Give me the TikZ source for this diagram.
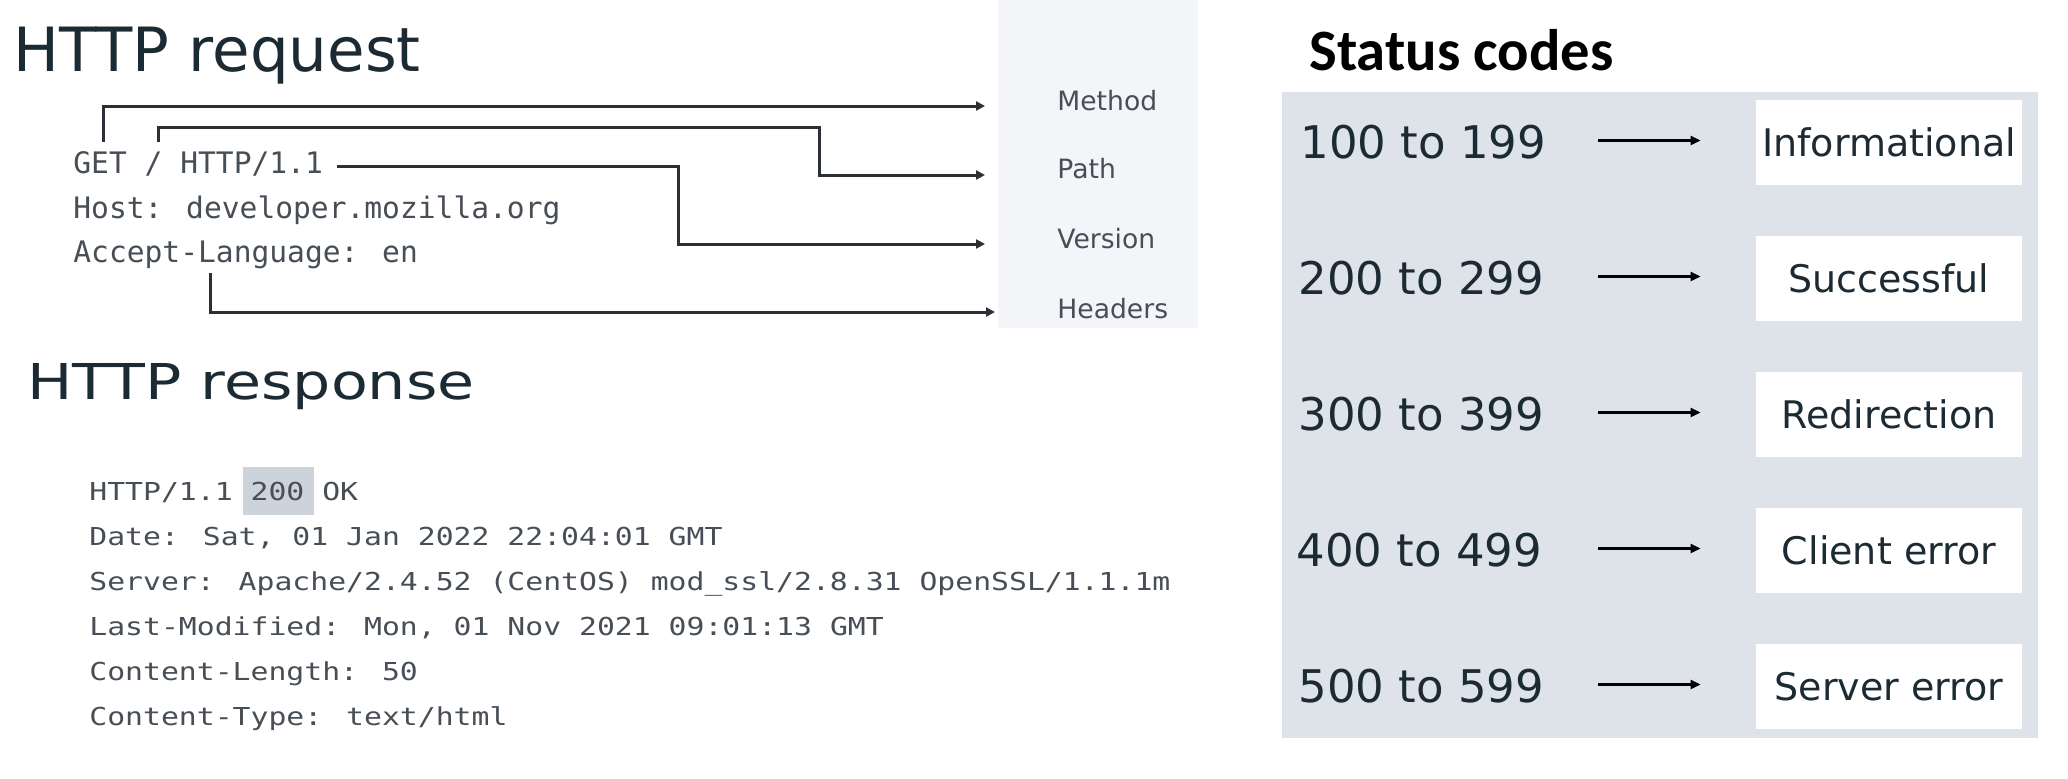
\documentclass[tikz,border=0pt]{standalone}
\usepackage{fontspec}
\setmainfont{DejaVu Sans}
\newfontfamily\monofont{DejaVu Sans Mono}
\newfontfamily\carlito{Carlito}
\usetikzlibrary{arrows.meta}
\definecolor{ink}{HTML}{1C2B33}
\definecolor{codegray}{HTML}{474E56}
\definecolor{reqpanel}{HTML}{F3F5F8}
\definecolor{statpanel}{HTML}{DEE2E9}
\definecolor{hlgray}{HTML}{CDD3DA}
\definecolor{wirecol}{HTML}{2B3036}
\begin{document}
\begin{tikzpicture}[x=0.5pt,y=-0.5pt,
  titletxt/.style={anchor=base west, inner sep=0pt, text=ink, font=\fontsize{30.5pt}{36pt}\selectfont},
  reqcode/.style={anchor=base west, inner sep=0pt, text=codegray, font=\monofont\fontsize{14.8pt}{18pt}\selectfont},
  respcode/.style={anchor=base west, inner sep=0pt, text=codegray, font=\monofont\fontsize{12.35pt}{15pt}\selectfont},
  partlabel/.style={anchor=base west, inner sep=0pt, text=codegray, font=\fontsize{13.3pt}{16pt}\selectfont},
  wireline/.style={draw=wirecol, line width=1.5pt, -{Triangle[length=4.5pt,width=4.5pt]}},
  rangetxt/.style={anchor=west, inner sep=0pt, text=ink, font=\fontsize{22.5pt}{27pt}\selectfont},
  catbox/.style={fill=white, minimum width=133pt, minimum height=42.5pt, inner sep=0pt, text=ink, font=\fontsize{19pt}{23pt}\selectfont},
  statarrow/.style={draw=black, line width=1.5pt, -{Triangle[length=5pt,width=4.5pt]}, shorten >=27.5pt},
]
\useasboundingbox[fill=white] (0,0) rectangle (2068,778);

% panels
\fill[reqpanel] (998,0) rectangle (1198,328);
\fill[statpanel] (1282,92) rectangle (2038,738);
\fill[hlgray] (243,467) rectangle (314,515);

% titles
\node[titletxt] (treq) at (13,71) {HTTP request};
\node[titletxt, font=\fontsize{24.7pt}{30pt}\selectfont] (tresp) at (27,399) {\scalebox{1.22}[1]{HTTP response}};
\node[anchor=base west, inner sep=0pt, text=black, font=\carlito\bfseries\fontsize{29.3pt}{34pt}\selectfont] (tstat) at (1309,70) {Status codes};

% request text
\node[reqcode] (rq1) at (73,173) {GET / HTTP/1.1};
\node[reqcode] (rq2) at (73,218) {Host: developer.mozilla.org};
\node[reqcode] (rq3) at (73,262) {Accept-Language: en};

% request parts
\node[partlabel] (lmethod) at (1057,110) {Method};
\node[partlabel] (lpath) at (1057,178) {Path};
\node[partlabel] (lversion) at (1057,248) {Version};
\node[partlabel] (lheaders) at (1057,318) {Headers};

% connectors
\coordinate (mS) at (103,142);
\coordinate (mE) at (985,106);
\draw[wireline] (mS) |- (mE);
\coordinate (pS) at (158,142);
\coordinate (pJ) at (819,127);
\coordinate (pE) at (985,175);
\draw[wireline] (pS) |- (pJ) |- (pE);
\coordinate (vS) at (337,166);
\coordinate (vJ) at (678,244);
\coordinate (vE) at (985,244);
\draw[wireline] (vS) -| (vJ) -- (vE);
\coordinate (hS) at (210,273);
\coordinate (hE) at (995,312);
\draw[wireline] (hS) |- (hE);

% response text
\node[respcode] (rs1) at (89,500) {\scalebox{1.205}[1]{HTTP/1.1 200 OK}};
\node[respcode] (rs2) at (89,545) {\scalebox{1.205}[1]{Date: Sat, 01 Jan 2022 22:04:01 GMT}};
\node[respcode] (rs3) at (89,590) {\scalebox{1.205}[1]{Server: Apache/2.4.52 (CentOS) mod\_ssl/2.8.31 OpenSSL/1.1.1m}};
\node[respcode] (rs4) at (89,635) {\scalebox{1.205}[1]{Last-Modified: Mon, 01 Nov 2021 09:01:13 GMT}};
\node[respcode] (rs5) at (89,680) {\scalebox{1.205}[1]{Content-Length: 50}};
\node[respcode] (rs6) at (89,725) {\scalebox{1.205}[1]{Content-Type: text/html}};

% status codes
\node[catbox] (b1) at (1889,142.5) {Informational};
\node[catbox] (b2) at (1889,278.5) {Successful};
\node[catbox] (b3) at (1889,414.5) {Redirection};
\node[catbox] (b4) at (1889,550.5) {Client error};
\node[catbox] (b5) at (1889,686.5) {Server error};

\node[rangetxt] (r1) at (1300,142.5) {100 to 199};
\node[rangetxt] (r2) at (1298,278.5) {200 to 299};
\node[rangetxt] (r3) at (1298,414.5) {300 to 399};
\node[rangetxt] (r4) at (1296,550.5) {400 to 499};
\node[rangetxt] (r5) at (1298,686.5) {500 to 599};

\coordinate (a1) at (1598,140.5);
\coordinate (a2) at (1598,276.5);
\coordinate (a3) at (1598,412.5);
\coordinate (a4) at (1598,548.5);
\coordinate (a5) at (1598,684.5);
\draw[statarrow] (a1) -- (a1 -| b1.west);
\draw[statarrow] (a2) -- (a2 -| b2.west);
\draw[statarrow] (a3) -- (a3 -| b3.west);
\draw[statarrow] (a4) -- (a4 -| b4.west);
\draw[statarrow] (a5) -- (a5 -| b5.west);
\end{tikzpicture}
\end{document}
